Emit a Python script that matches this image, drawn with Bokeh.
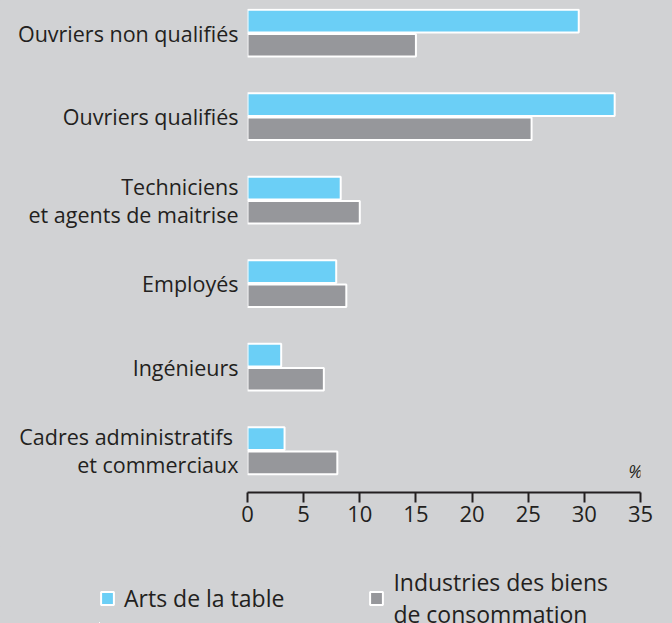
from bokeh.plotting import figure
from bokeh.models import ColumnDataSource, FixedTicker, Legend, LegendItem, Label
from bokeh.layouts import column, row
from bokeh.transform import dodge
from bokeh.embed import file_html
from bokeh.resources import INLINE

# ---- data ----
categories = ["Ouvriers non qualifiés", "Ouvriers qualifiés",
              "Techniciens\net agents de maitrise", "Employés",
              "Ingénieurs", "Cadres  administratifs\net commerciaux"]
arts_de_la_table = [29.5, 32.7, 8.3, 7.9, 3.0, 3.3]
industries_biens_conso = [15.0, 25.3, 10.0, 8.8, 6.8, 8.0]
x_ticks = [0, 5, 10, 15, 20, 25, 30, 35]
series_labels = ["Arts de la table", "Industries des biens\nde consommation"]

BG = "#d1d2d4"
CYAN = "#6bcff6"
GREY = "#96979b"
TXT = "#231f20"
FONT = "Open Sans"

n = len(categories)
ypos = [n - i for i in range(n)]
src = ColumnDataSource(dict(y=ypos, a=arts_de_la_table, b=industries_biens_conso))

# ---- main chart ----
p = figure(width=672, height=546, output_backend="svg", toolbar_location=None,
           x_range=(0, 35), y_range=(0.5, 6.296),
           min_border_left=247, min_border_right=32, min_border_top=8, min_border_bottom=54)
p.background_fill_color = BG
p.border_fill_color = BG
p.outline_line_color = None
p.grid.visible = False
p.styles = {"background-color": BG}

bar_a = dict(fill_color=CYAN, line_color="white", line_width=2)
bar_b = dict(fill_color=GREY, line_color="white", line_width=2)
r1 = p.hbar(y=dodge("y", 0.145), right="a", left=0, height=0.27, source=src, **bar_a)
r2 = p.hbar(y=dodge("y", -0.145), right="b", left=0, height=0.27, source=src, **bar_b)

xa = p.xaxis[0]
xa.ticker = FixedTicker(ticks=x_ticks)
xa.axis_line_color = TXT
xa.axis_line_width = 2
xa.major_tick_line_color = TXT
xa.major_tick_line_width = 2
xa.major_tick_in = 0
xa.major_tick_out = 10
xa.minor_tick_line_color = None
xa.major_label_standoff = 3
xa.major_label_text_font = FONT
xa.major_label_text_font_size = "22px"
xa.major_label_text_color = TXT

ya = p.yaxis[0]
ya.ticker = FixedTicker(ticks=ypos)
ya.major_label_overrides = {y: c for y, c in zip(ypos, categories)}
ya.axis_line_color = None
ya.major_tick_line_color = None
ya.minor_tick_line_color = None
ya.major_tick_in = 0
ya.major_tick_out = 0
ya.major_label_standoff = 9
ya.major_label_text_font = FONT
ya.major_label_text_font_size = "21.5px"
ya.major_label_text_color = TXT
ya.major_label_text_line_height = 0.95

p.add_layout(Label(x=34.55, y=0.76, text="%", text_align="center", text_baseline="middle",
                   text_font=FONT, text_font_size="18px", text_font_style="italic",
                   text_color=TXT))

# ---- legend strip (same series, drawn outside its visible range) ----
q = figure(width=672, height=77, output_backend="svg", toolbar_location=None,
           x_range=(100, 101), y_range=(100, 101), x_axis_type=None, y_axis_type=None,
           min_border_left=99, min_border_right=0, min_border_top=20, min_border_bottom=0)
q.background_fill_color = BG
q.border_fill_color = BG
q.outline_line_color = None
q.grid.visible = False
q.styles = {"background-color": BG}
l1 = q.hbar(y="y", right="a", left=0, height=0.27, source=src, **bar_a)
l2 = q.hbar(y="y", right="b", left=0, height=0.27, source=src, **bar_b)

legend = Legend(items=[LegendItem(label=series_labels[0], renderers=[l1]),
                       LegendItem(label=series_labels[1], renderers=[l2])],
                orientation="horizontal", location="top_left",
                margin=0, padding=0, spacing=84, label_standoff=9,
                glyph_width=16, glyph_height=16,
                label_text_font=FONT, label_text_font_size="23px", label_text_color=TXT,
                label_text_line_height=0.86,
                background_fill_alpha=0, border_line_alpha=0)
q.add_layout(legend, "center")

layout = column(p, row(q, spacing=0), spacing=0)
layout.styles = {"background-color": BG}
open("out.html", "w").write(file_html(layout, INLINE))
